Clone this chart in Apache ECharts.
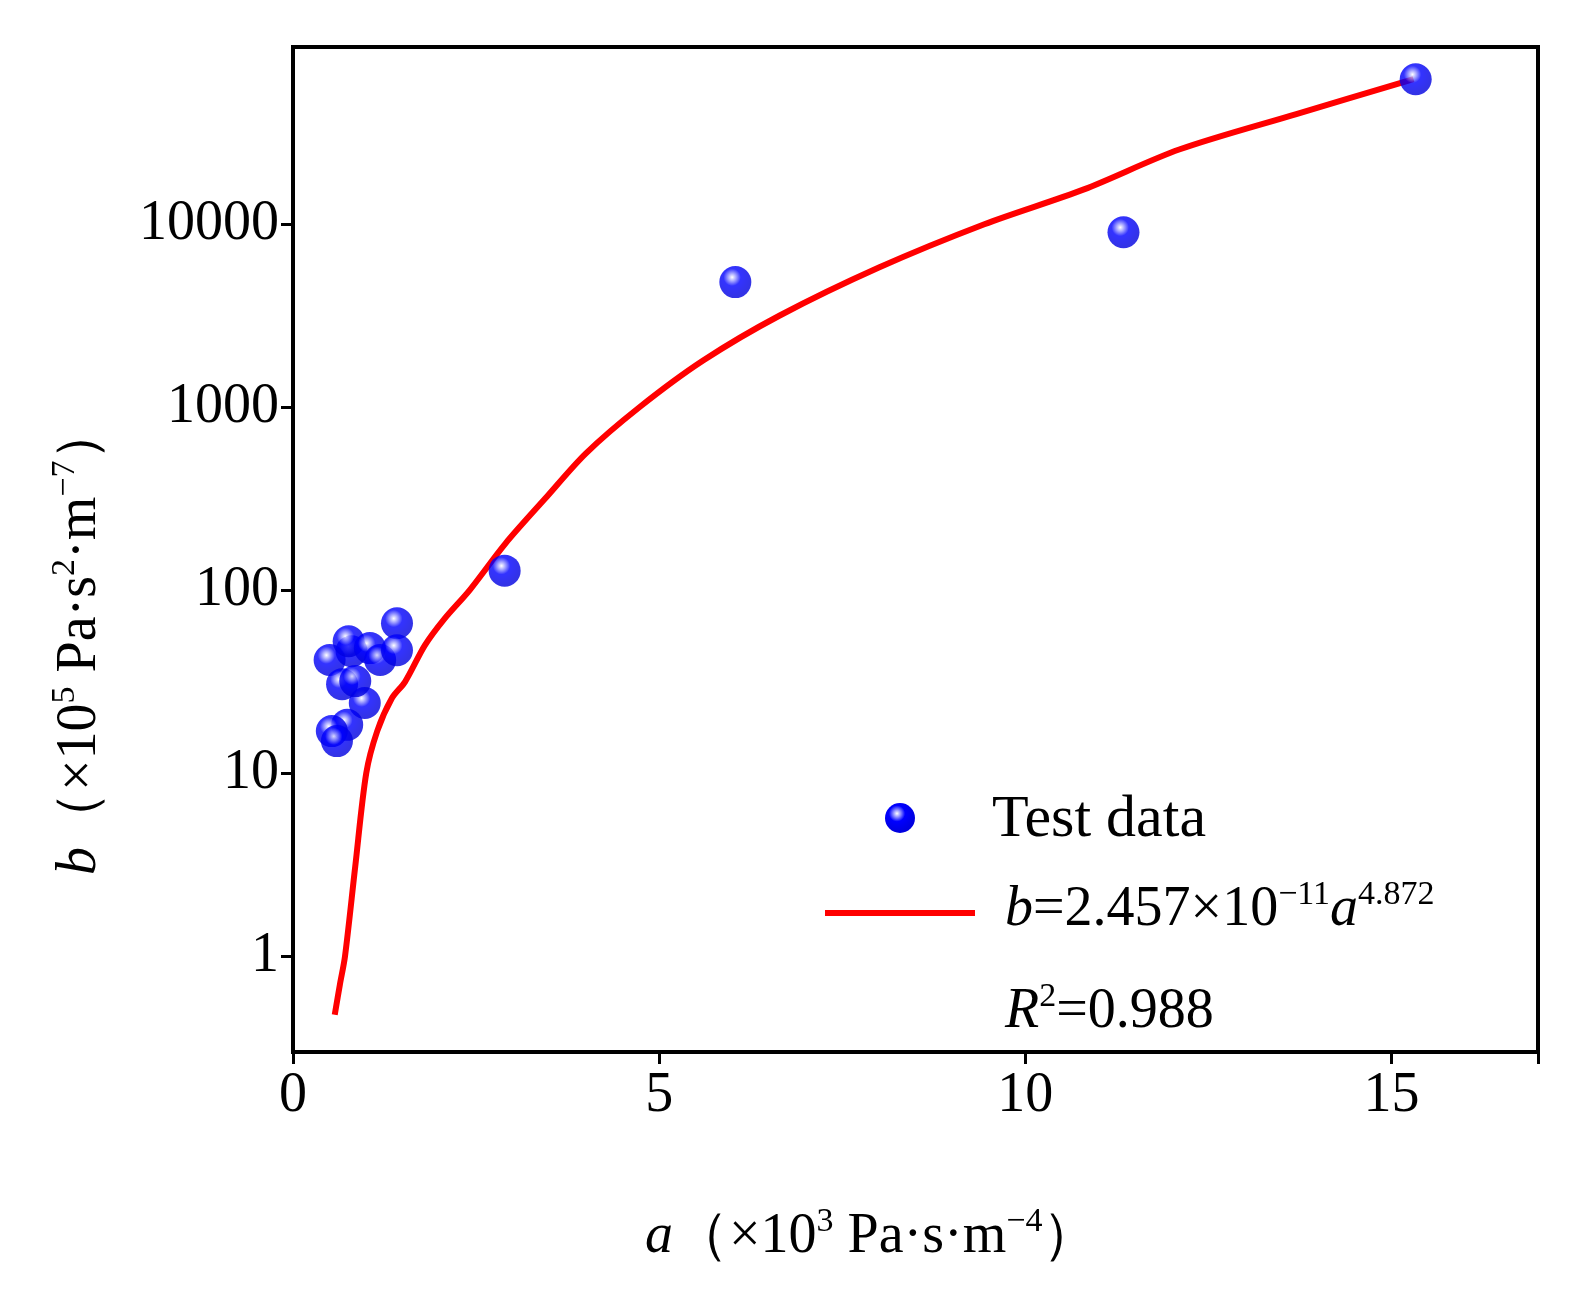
<!DOCTYPE html>
<html><head><meta charset="utf-8">
<script src="https://cdn.jsdelivr.net/npm/echarts@6/dist/echarts.min.js"></script>
<style>html,body{margin:0;background:#fff;overflow:hidden}#c{width:1582px;height:1310px}</style>
</head><body><div id="c"></div>
<script>
const testA = [0.50,0.67,0.80,0.76,1.05,1.19,1.42,1.42,0.98,0.74,0.53,0.60,0.85,2.89,6.04,11.34,15.33];
const testB = [41.6,30.7,46.5,52.7,48.3,41.6,66,47,24.2,18.4,17,15,31.9,128,4830,9040,62000];
const fitA = [0.57,0.64,0.71,0.85,1.0,1.15,1.35,1.53,1.8,2.07,2.41,2.9,3.44,4.0,4.73,5.6,6.64,8.0,9.44,10.8,12.1,13.7,15.3];
const fitB = [0.48,0.7,1,3.1,10,17,25.7,31.6,50,70,100,180,316,560,1000,1800,3162,5800,10000,15500,25600,40000,62000];
const xTicks = [0,5,10,15];
const yTicks = [1,10,100,1000,10000];

const font = '"Liberation Serif","Times New Roman",serif';
const chart = echarts.init(document.getElementById('c'));
const ball = {type:'radial',x:0.4,y:0.35,r:0.6,colorStops:[{offset:0,color:'#ffffff'},{offset:0.2,color:'#9090ff'},{offset:0.45,color:'#0000ff'},{offset:1,color:'#0000e0'}]};
const rich = {i:{fontStyle:'italic',fontFamily:font,fontSize:56},n:{fontFamily:font,fontSize:56},s:{fontFamily:font,fontSize:34,verticalAlign:'top',padding:[0,0,30,0]}};
chart.setOption({
  animation:false,
  grid:{left:293,right:44,top:47,bottom:258},
  xAxis:{type:'value',min:0,max:17,interval:5,
    axisLine:{lineStyle:{color:'#000',width:4}},
    axisTick:{length:12,lineStyle:{width:3,color:'#000'}},
    axisLabel:{color:'#000',fontFamily:font,fontSize:56,margin:16,formatter:v=>xTicks.includes(v)?String(v):''},
    splitLine:{show:false}},
  yAxis:{type:'log',logBase:10,min:0.3,max:93000,
    axisLine:{lineStyle:{color:'#000',width:4}},
    axisTick:{length:12,lineStyle:{width:3,color:'#000'}},
    axisLabel:{color:'#000',fontFamily:font,fontSize:56,margin:14,showMinLabel:false,showMaxLabel:false,
      formatter:v=>yTicks.some(t=>Math.abs(t-v)/t<1e-6)?String(Math.round(v)):''},
    splitLine:{show:false}},
  graphic:[
    {type:'rect',shape:{x:293,y:47,width:1245,height:1005},style:{fill:'none',stroke:'#000',lineWidth:4},silent:true},
    {type:'text',x:645,y:1205,style:{rich:rich,text:'{i|a}{n|（×10}{s|3}{n| Pa·s·m}{s|−4}{n|）}',fill:'#000'}},
    {type:'text',x:48,y:875,rotation:Math.PI/2,style:{rich:rich,text:'{i|b}{n|（×10}{s|5}{n| Pa·s}{s|2}{n|·m}{s|−7}{n|）}',fill:'#000'}},
    {type:'circle',shape:{cx:900,cy:818,r:15},style:{fill:ball}},
    {type:'text',x:992,y:790,style:{text:'Test data',fontFamily:font,fontSize:60,fill:'#000'}},
    {type:'line',shape:{x1:825,y1:913,x2:975,y2:913},style:{stroke:'#ff0000',lineWidth:6}},
    {type:'text',x:1005,y:878,style:{rich:rich,text:'{i|b}{n|=2.457×10}{s|−11}{i|a}{s|4.872}',fill:'#000'}},
    {type:'text',x:1005,y:980,style:{rich:rich,text:'{i|R}{s|2}{n|=0.988}',fill:'#000'}}
  ],
  series:[
    {type:'line',data:fitA.map((a,i)=>[a,fitB[i]]),smooth:0.3,showSymbol:false,lineStyle:{color:'#ff0000',width:6},z:2},
    {type:'scatter',data:testA.map((a,i)=>[a,testB[i]]),symbolSize:32,itemStyle:{color:ball},z:3}
  ]
});
</script></body></html>
